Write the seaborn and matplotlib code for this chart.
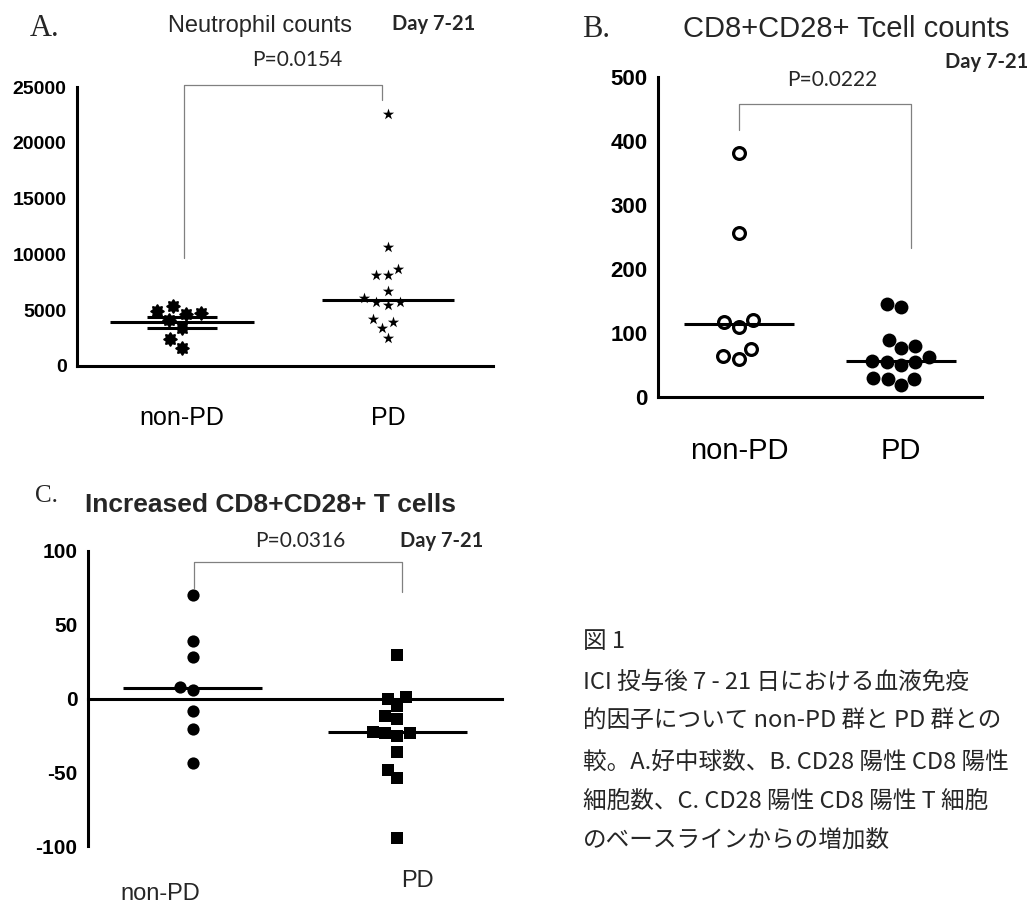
import numpy as np
import pandas as pd
import matplotlib
matplotlib.use("Agg")
import matplotlib.pyplot as plt
import seaborn as sns
from matplotlib.path import Path

groups = ["non-PD", "PD"]

# A. Neutrophil counts, Day 7-21
neut_nonpd = [4740, 4110, 4920, 3390, 1600, 5370, 4650, 2410]
neut_pd = [22600, 10690, 8140, 8110, 8710, 6740, 6050, 5510, 5750, 5750,
           3950, 4190, 3440, 2510]

# B. CD8+CD28+ T cell counts, Day 7-21
cd_nonpd = [381, 257, 117, 110, 120, 75, 60, 64]
cd_pd = [146, 140, 89, 80, 77, 63, 50, 55, 55, 57, 28, 18, 28, 29]

# C. Increase of CD8+CD28+ T cells from baseline
inc_nonpd = [70.4, 39.1, 27.8, 5.9, 7.9, -8.8, -20.8, -43.4]
inc_pd = [29.4, 0.7, 0.0, -5.0, -14.0, -11.8, -23.5, -22.6, -25.3, -23.5,
          -36.2, -48.4, -53.6, -94.3]

p_values = ["P=0.0154", "P=0.0222", "P=0.0316"]
titles = ["Neutrophil counts", "CD8+CD28+ Tcell counts", "Increased CD8+CD28+ T cells"]
day_label = "Day 7-21"

caption = [
    "図 1",
    "ICI 投与後 7 - 21 日における血液免疫",
    "的因子について non-PD 群と PD 群との",
    "較。A.好中球数、B. CD28 陽性 CD8 陽性",
    "細胞数、C. CD28 陽性 CD8 陽性 T 細胞",
    "のベースラインからの増加数",
]

W, H = 1032, 907


def fx(px):
    return px / W


def fy(py):
    return 1 - py / H


def make_df(vals, group):
    return pd.DataFrame({"group": group, "value": vals})


sns.set_style("white")
plt.rcParams["font.family"] = ["Liberation Sans", "DejaVu Sans"]
plt.rcParams["axes.unicode_minus"] = False

fig = plt.figure(figsize=(W / 100, H / 100), dpi=100)

# gear-like marker for panel A non-PD
theta = np.linspace(0, 2 * np.pi, 161)
rad = 1 + 0.15 * np.cos(8 * theta)
cog = Path(np.column_stack([rad * np.cos(theta), rad * np.sin(theta)]))

LW = 2.2


def style_axis(ax, yticks, ylab_size):
    for s in ["top", "right"]:
        ax.spines[s].set_visible(False)
    for s in ["left", "bottom"]:
        ax.spines[s].set_linewidth(LW)
        ax.spines[s].set_color("black")
    ax.set_yticks(yticks)
    ax.tick_params(axis="y", direction="out", length=6.5, width=LW, pad=1,
                   labelsize=ylab_size, colors="black")
    ax.tick_params(axis="x", direction="out", length=6, width=LW, colors="black")
    for lab in ax.get_yticklabels():
        lab.set_fontweight("bold")
    ax.set_xlabel("")
    ax.set_ylabel("")


def bracket(ax, x0, x1, ytop, y0, y1):
    ax.plot([x0, x0, x1, x1], [y0, ytop, ytop, y1], color="#808080", lw=0.9,
            clip_on=False)


def center_line(ax, pos, val, half=0.34):
    ax.hlines(val, pos - half, pos + half, color="black", lw=LW, zorder=3)


# ---------------- Panel A ----------------
axA = fig.add_axes([fx(77), fy(366), (493 - 77) / W, (366 - 87) / H])
sns.swarmplot(data=make_df(neut_nonpd, "non-PD"), x="group", y="value", order=groups,
              ax=axA, marker=cog, color="black", size=10.5, linewidth=0)
sns.swarmplot(data=make_df(neut_pd, "PD"), x="group", y="value", order=groups,
              ax=axA, marker="*", color="black", size=8.5, linewidth=0)
m = np.mean(neut_nonpd)
sem = np.std(neut_nonpd, ddof=1) / np.sqrt(len(neut_nonpd))
center_line(axA, 0, m, 0.35)
center_line(axA, 0, m + sem, 0.17)
center_line(axA, 0, m - sem, 0.17)
center_line(axA, 1, np.median(neut_pd), 0.32)
axA.set_xlim(-0.51, 1.51)
axA.set_ylim(0, 25000)
style_axis(axA, np.arange(0, 25001, 5000), 14)
axA.tick_params(axis="x", labelsize=18, pad=23)
bracket(axA, 0.01, 0.97, 25180, 9680, 23840)

fig.text(fx(30), fy(36), "A.", family=["Liberation Serif"], fontsize=22)
fig.text(fx(168), fy(32), titles[0], fontsize=17)
fig.text(fx(392), fy(30), day_label, family=["Lato"], fontweight="bold", fontsize=14.5)
fig.text(fx(297), fy(66), p_values[0], family=["Lato"], fontsize=15, ha="center")

# ---------------- Panel B ----------------
axB = fig.add_axes([fx(658), fy(397), 324 / W, 320 / H])
sns.swarmplot(data=make_df(cd_nonpd, "non-PD"), x="group", y="value", order=groups,
              ax=axB, marker="o", color="white", edgecolor="black", size=8.5,
              linewidth=2.3)
sns.swarmplot(data=make_df(cd_pd, "PD"), x="group", y="value", order=groups,
              ax=axB, marker="o", color="black", size=10, linewidth=0)
center_line(axB, 0, np.median(cd_nonpd), 0.34)
center_line(axB, 1, np.median(cd_pd), 0.34)
axB.set_xlim(-0.5, 1.5)
axB.set_ylim(0, 500)
style_axis(axB, np.arange(0, 501, 100), 16)
axB.tick_params(axis="x", labelsize=21, pad=23)
bracket(axB, 0.0, 1.06, 458, 417, 233)

fig.text(fx(582), fy(37), "B.", family=["Liberation Serif"], fontsize=22)
fig.text(fx(683), fy(37), titles[1], fontsize=21)
fig.text(fx(945), fy(68), day_label, family=["Lato"], fontweight="bold", fontsize=14.5)
fig.text(fx(832), fy(86), p_values[1], family=["Lato"], fontsize=15, ha="center")

# ---------------- Panel C ----------------
axC = fig.add_axes([fx(88), fy(846), 414 / W, 295 / H])
sns.swarmplot(data=make_df(inc_nonpd, "non-PD"), x="group", y="value", order=groups,
              ax=axC, marker="o", color="black", size=8.8, linewidth=0)
sns.swarmplot(data=make_df(inc_pd, "PD"), x="group", y="value", order=groups,
              ax=axC, marker="s", color="black", size=8.6, linewidth=0)
center_line(axC, 0, np.median(inc_nonpd), 0.34)
center_line(axC, 1, np.median(inc_pd), 0.34)
axC.set_xlim(-0.51, 1.51)
axC.set_ylim(-100, 100)
style_axis(axC, [-100, -50, 0, 50, 100], 15)
axC.spines["bottom"].set_position(("data", 0))
axC.set_xticklabels([])
bracket(axC, 0.005, 1.02, 92.3, 74.7, 72.0)

fig.text(fx(35), fy(502), "C.", family=["Liberation Serif"], fontsize=18)
fig.text(fx(85), fy(512), titles[2], fontsize=19, fontweight="bold")
fig.text(fx(300), fy(547), p_values[2], family=["Lato"], fontsize=15, ha="center")
fig.text(fx(400), fy(547), day_label, family=["Lato"], fontweight="bold", fontsize=14.5)
fig.text(fx(160), fy(900), groups[0], fontsize=17, ha="center")
fig.text(fx(417), fy(887), groups[1], fontsize=17, ha="center")

# ---------------- caption ----------------
line_y = [642, 682, 721, 762, 802, 841]
for line, yy in zip(caption, line_y):
    fig.text(fx(583), fy(yy), line, family=["Noto Sans CJK JP", "DejaVu Sans"],
             fontsize=17, va="center")

fig.savefig("out.png", dpi=100)
